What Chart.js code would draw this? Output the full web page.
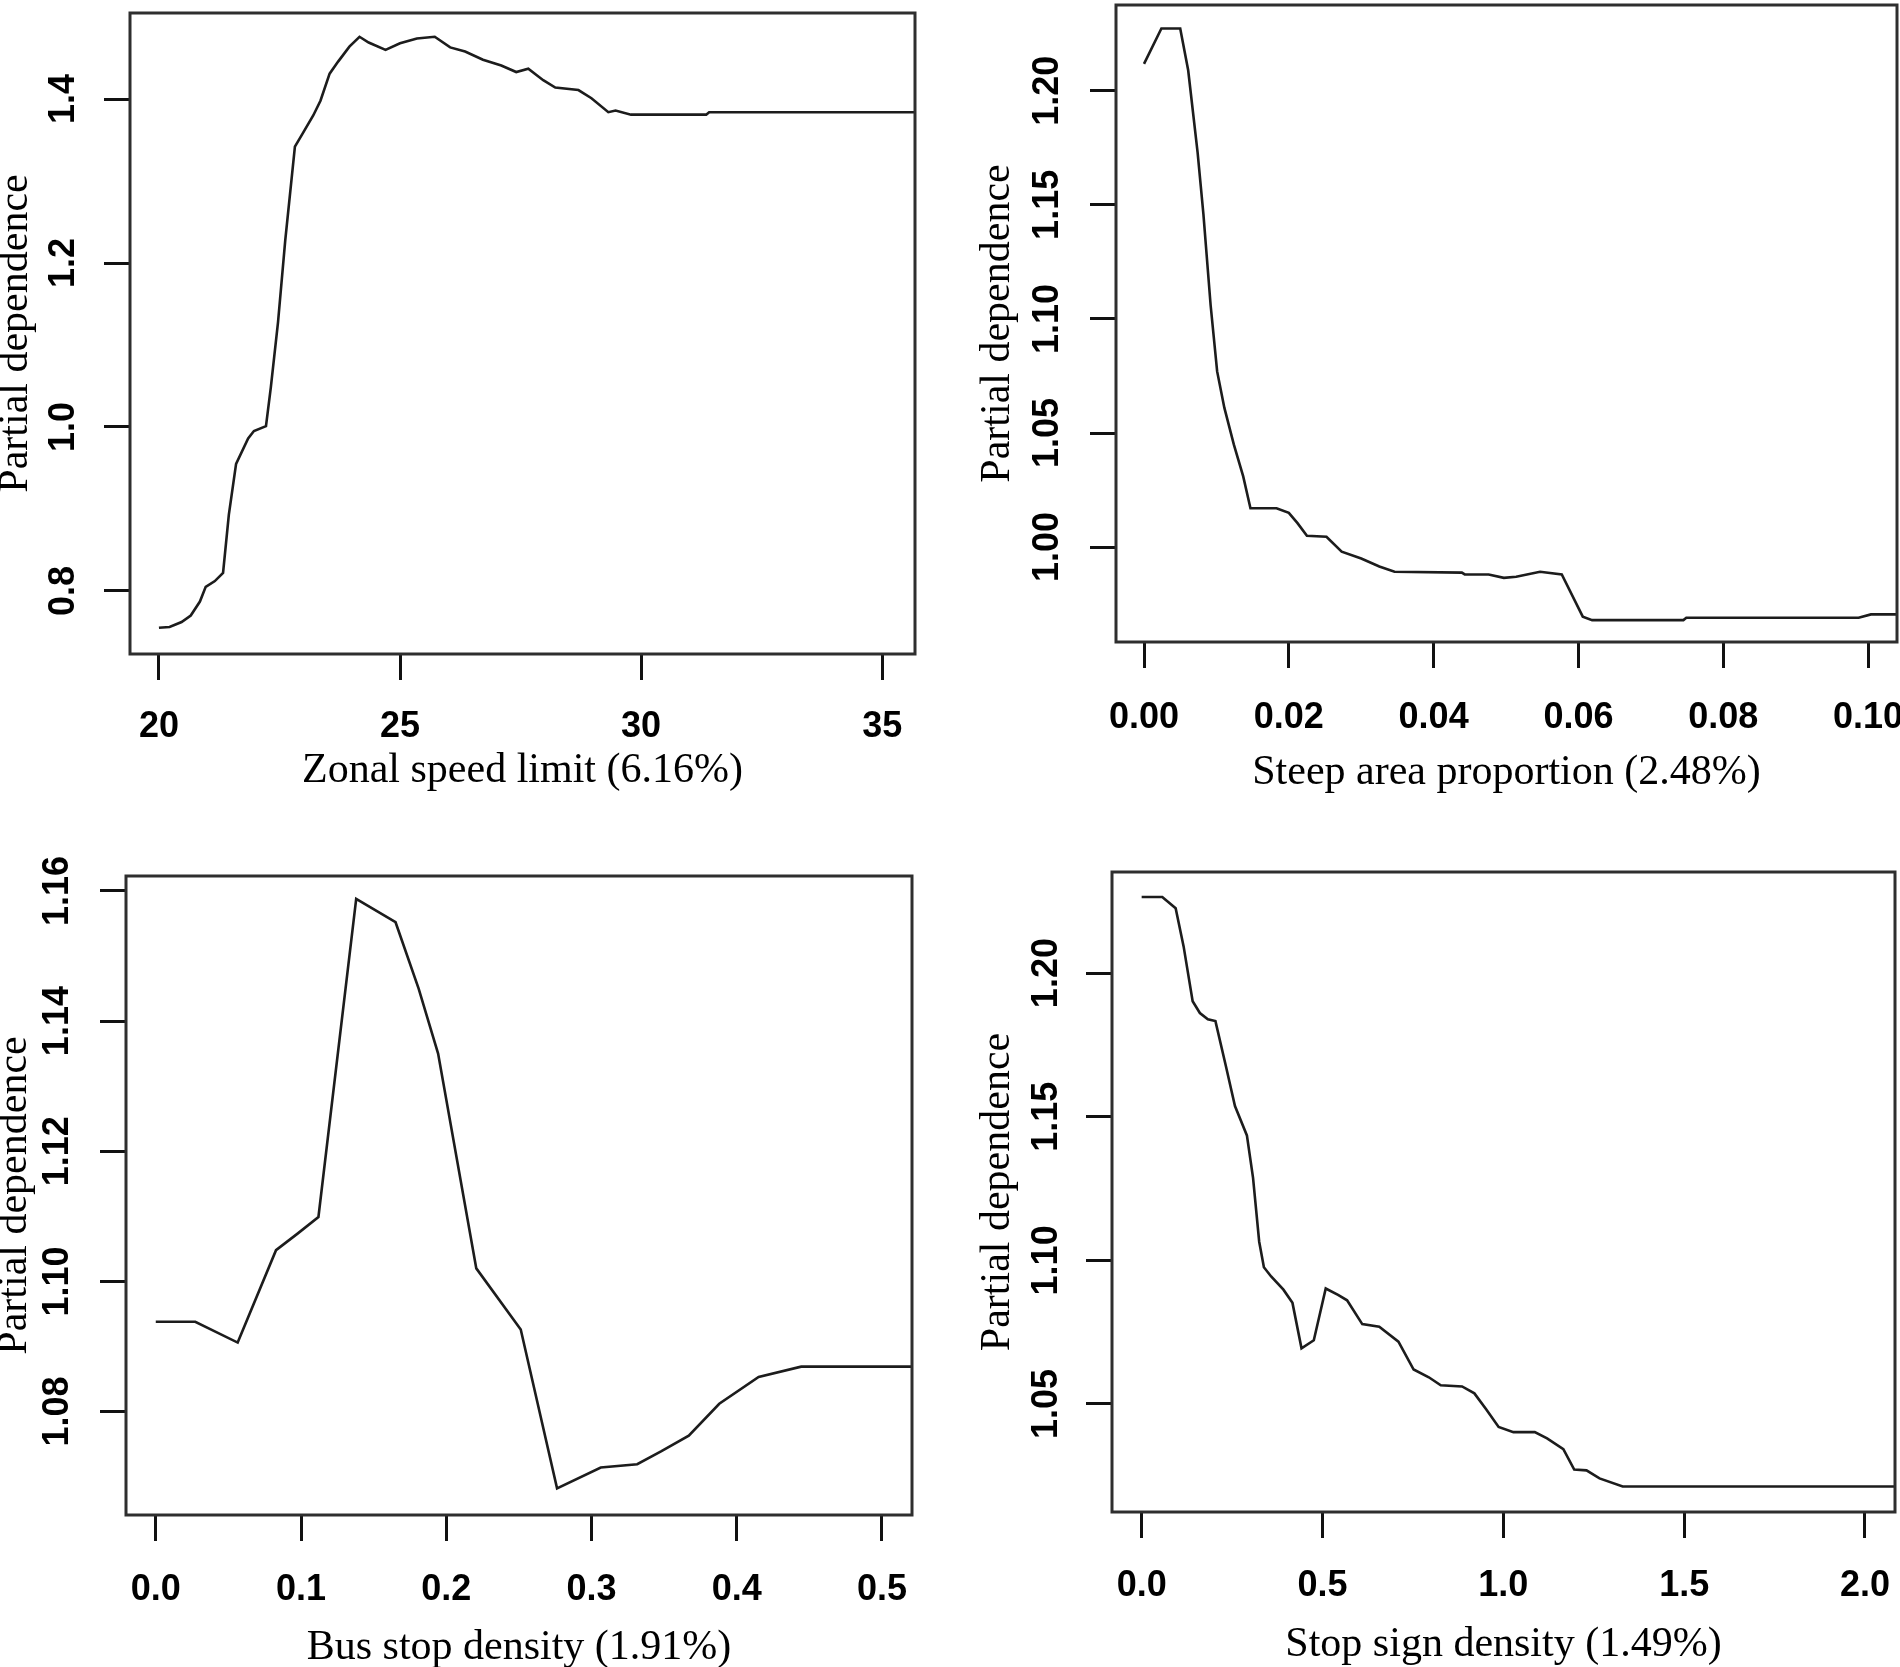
<!DOCTYPE html>
<html>
<head>
<meta charset="utf-8">
<script src="https://cdn.jsdelivr.net/npm/chart.js@4.4.1/dist/chart.umd.min.js"></script>
<style>
  body { margin: 0; background: #fff; width: 1900px; height: 1667px; overflow: hidden; position: relative; }
  canvas { position: absolute; }
</style>
</head>
<body>
<canvas id="speedChart" width="950" height="834" style="left:0;top:0"></canvas>
<canvas id="steepChart" width="950" height="834" style="left:950px;top:0"></canvas>
<canvas id="busChart" width="950" height="833" style="left:0;top:834px"></canvas>
<canvas id="stopChart" width="950" height="833" style="left:950px;top:834px"></canvas>
<script>
// Zonal speed limit
const speedX = [20, 20.22, 20.47, 20.66, 20.85, 20.97, 21.16, 21.33, 21.45, 21.6, 21.85, 21.97, 22.22, 22.32, 22.47, 22.62, 22.82, 22.97, 23.2, 23.35, 23.54, 23.72, 23.95, 24.16, 24.35, 24.7, 25.0, 25.35, 25.72, 26.04, 26.35, 26.72, 27.1, 27.41, 27.66, 27.97, 28.22, 28.7, 28.97, 29.32, 29.47, 29.79, 31.35, 31.41, 35.7];
const speedPD = [0.755, 0.756, 0.762, 0.770, 0.787, 0.805, 0.812, 0.822, 0.893, 0.955, 0.986, 0.995, 1.001, 1.048, 1.128, 1.228, 1.342, 1.357, 1.380, 1.398, 1.431, 1.446, 1.464, 1.476, 1.469, 1.460, 1.468, 1.474, 1.476, 1.463, 1.458, 1.448, 1.441, 1.433, 1.437, 1.423, 1.414, 1.411, 1.401, 1.384, 1.386, 1.381, 1.381, 1.384, 1.384];

// Steep area proportion
const steepX = [0, 0.0024, 0.005, 0.0061, 0.0074, 0.0082, 0.0092, 0.0101, 0.0111, 0.0124, 0.0137, 0.0147, 0.0183, 0.02, 0.0212, 0.0225, 0.0252, 0.0273, 0.03, 0.0325, 0.0346, 0.0439, 0.0443, 0.0476, 0.0497, 0.0514, 0.0547, 0.0577, 0.0606, 0.0619, 0.0745, 0.0749, 0.0987, 0.1004, 0.105];
const steepPD = [1.2118, 1.2273, 1.2273, 1.209, 1.173, 1.146, 1.106, 1.077, 1.061, 1.045, 1.031, 1.017, 1.017, 1.015, 1.0105, 1.005, 1.0045, 0.998, 0.995, 0.9915, 0.9892, 0.9888, 0.988, 0.988, 0.9865, 0.987, 0.9892, 0.988, 0.9695, 0.968, 0.968, 0.969, 0.969, 0.9705, 0.9705];

// Bus stop density
const busX = [0, 0.0272, 0.0564, 0.0828, 0.0974, 0.112, 0.138, 0.1651, 0.181, 0.1944, 0.2207, 0.2513, 0.2763, 0.3064, 0.3315, 0.3482, 0.367, 0.388, 0.4151, 0.4444, 0.53];
const busPD = [1.0938, 1.0938, 1.0906, 1.1048, 1.1073, 1.1099, 1.1588, 1.1552, 1.145, 1.135, 1.102, 1.0926, 1.0682, 1.0714, 1.0719, 1.0739, 1.0763, 1.0812, 1.0853, 1.0869, 1.0869];

// Stop sign density
const stopX = [0, 0.057, 0.094, 0.116, 0.141, 0.161, 0.183, 0.204, 0.233, 0.258, 0.291, 0.308, 0.325, 0.338, 0.358, 0.392, 0.417, 0.442, 0.476, 0.509, 0.543, 0.568, 0.61, 0.657, 0.71, 0.752, 0.794, 0.827, 0.886, 0.92, 0.953, 0.987, 1.028, 1.087, 1.121, 1.166, 1.196, 1.23, 1.266, 1.33, 2.1];
const stopPD = [1.2265, 1.2265, 1.2226, 1.2093, 1.1902, 1.1861, 1.1839, 1.1833, 1.1676, 1.1537, 1.1435, 1.1287, 1.1065, 1.0976, 1.0944, 1.0898, 1.0852, 1.0694, 1.0722, 1.0902, 1.088, 1.0861, 1.0778, 1.0769, 1.0717, 1.062, 1.0593, 1.0565, 1.0561, 1.0537, 1.0481, 1.042, 1.0402, 1.0402, 1.038, 1.0343, 1.0272, 1.0269, 1.0241, 1.0213, 1.0213];

const yTitle = "Partial dependence";

Chart.defaults.font.family = '"Liberation Sans", Arial, sans-serif';
Chart.defaults.color = "#000";

// frame around the plot region, like R's box()
const boxPlugin = {
  id: "box",
  afterDraw(chart) {
    const a = chart.chartArea;
    const c = chart.ctx;
    c.save();
    c.strokeStyle = "#2e2e2e";
    c.lineWidth = 3;
    c.strokeRect(a.left, a.top, a.right - a.left, a.bottom - a.top);
    c.restore();
  },
};

const measure = document.createElement("canvas").getContext("2d");
measure.font = 'bold 36px "Liberation Sans"';

function halfWidest(min, max, step, dec) {
  let w = 0;
  for (let v = Math.ceil(min / step) * step; v <= max + 1e-9; v += step) {
    w = Math.max(w, measure.measureText(v.toFixed(dec)).width);
  }
  return w / 2;
}

// labels may hang outside the plot area, don't let them shrink it
function noPad(s) {
  s.paddingLeft = 0;
  s.paddingRight = 0;
  s.paddingTop = 0;
  s.paddingBottom = 0;
}

function drawPanel(id, ox, oy, w, h, f, xs, ys, xAxis, yAxis, xTitle) {
  const xh = f.xTitleY - f.bottom + 12.5;
  const tl = 26;
  new Chart(document.getElementById(id), {
    type: "line",
    data: {
      datasets: [{
        data: xs.map((x, i) => ({ x: x, y: ys[i] })),
        borderColor: "#1c1c1c",
        borderWidth: 2.6,
        pointRadius: 0,
        tension: 0,
        fill: false,
      }],
    },
    options: {
      responsive: false,
      animation: false,
      layout: {
        padding: { left: 0, top: f.top - oy, right: ox + w - f.right, bottom: oy + h - f.bottom - xh },
      },
      plugins: { legend: { display: false }, tooltip: { enabled: false } },
      scales: {
        x: {
          type: "linear",
          min: xAxis.min,
          max: xAxis.max,
          afterFit: (s) => { s.height = xh; noPad(s); },
          border: { display: false },
          grid: { drawOnChartArea: false, drawTicks: true, tickLength: tl, tickWidth: 3, tickColor: "#111" },
          ticks: {
            stepSize: xAxis.step,
            includeBounds: false,
            autoSkip: false,
            maxRotation: 0,
            padding: f.xLabelY - f.bottom - tl - 18,
            font: { size: 36, weight: "bold", lineHeight: 1 },
            callback: (v) => v.toFixed(xAxis.dec),
          },
          title: {
            display: true,
            text: xTitle,
            font: { family: '"Liberation Serif", "Times New Roman", serif', size: 42, lineHeight: 0.5 },
            padding: { top: 0, bottom: 2 },
          },
        },
        y: {
          min: yAxis.min,
          max: yAxis.max,
          afterFit: (s) => { s.width = f.left - ox; noPad(s); },
          border: { display: false },
          grid: { drawOnChartArea: false, drawTicks: true, tickLength: tl, tickWidth: 3, tickColor: "#111" },
          ticks: {
            stepSize: yAxis.step,
            includeBounds: false,
            autoSkip: false,
            minRotation: 90,
            maxRotation: 90,
            crossAlign: "center",
            padding: f.left - tl - halfWidest(yAxis.min, yAxis.max, yAxis.step, yAxis.dec) - f.yLabelX,
            font: { size: 36, weight: "bold" },
            callback: (v) => v.toFixed(yAxis.dec),
          },
          title: {
            display: true,
            text: yTitle,
            font: { family: '"Liberation Serif", "Times New Roman", serif', size: 42, lineHeight: 0.5 },
            padding: { top: f.yTitleX - ox - 10.5, bottom: 0 },
          },
        },
      },
    },
    plugins: [boxPlugin],
  });
}

drawPanel("speedChart", 0, 0, 950, 834,
  { left: 130, right: 915, top: 13, bottom: 654, yLabelX: 64, yTitleX: 16, xLabelY: 727, xTitleY: 771 },
  speedX, speedPD,
  { min: 19.40, max: 35.68, step: 5, dec: 0 },
  { min: 0.723, max: 1.505, step: 0.2, dec: 1 },
  "Zonal speed limit (6.16%)");

drawPanel("steepChart", 950, 0, 950, 834,
  { left: 1116, right: 1897, top: 5, bottom: 642, yLabelX: 1048, yTitleX: 998, xLabelY: 718, xTitleY: 773 },
  steepX, steepPD,
  { min: -0.00387, max: 0.104, step: 0.02, dec: 2 },
  { min: 0.9584, max: 1.2376, step: 0.05, dec: 2 },
  "Steep area proportion (2.48%)");

drawPanel("busChart", 0, 834, 950, 833,
  { left: 126, right: 912, top: 876, bottom: 1515, yLabelX: 57.6, yTitleX: 15, xLabelY: 1590, xTitleY: 1648 },
  busX, busPD,
  { min: -0.0205, max: 0.5207, step: 0.1, dec: 1 },
  { min: 1.0641, max: 1.1623, step: 0.02, dec: 2 },
  "Bus stop density (1.91%)");

drawPanel("stopChart", 950, 834, 950, 833,
  { left: 1112, right: 1895, top: 872, bottom: 1512, yLabelX: 1047, yTitleX: 998, xLabelY: 1586, xTitleY: 1645 },
  stopX, stopPD,
  { min: -0.082, max: 2.083, step: 0.5, dec: 1 },
  { min: 1.0124, max: 1.2352, step: 0.05, dec: 2 },
  "Stop sign density (1.49%)");
</script>
</body>
</html>
